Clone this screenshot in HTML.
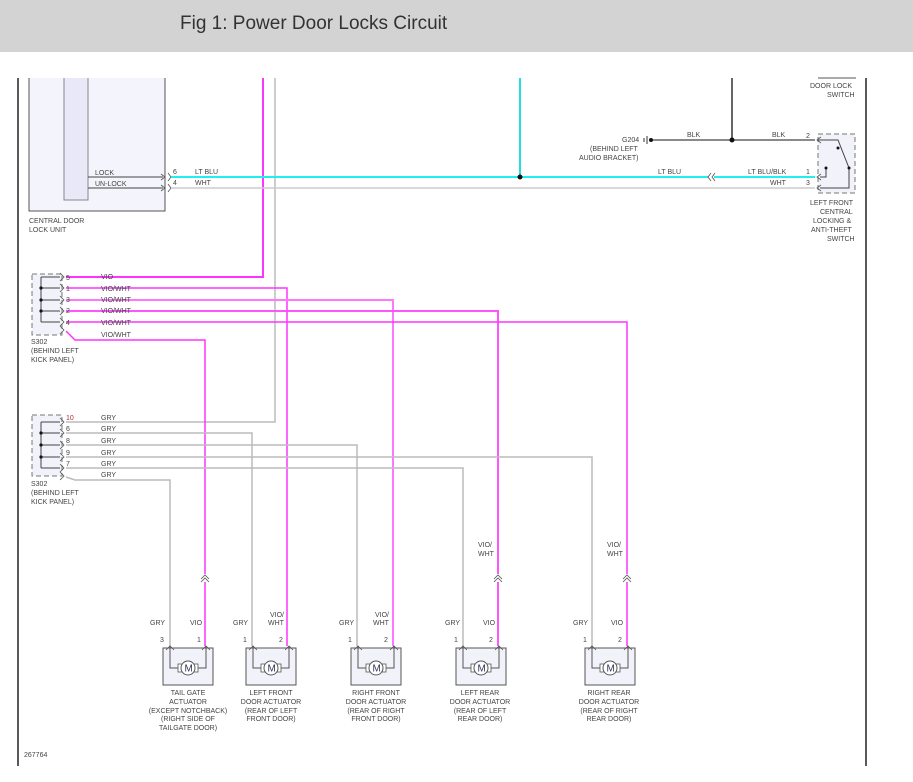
<!DOCTYPE html>
<html><head><meta charset="utf-8"><style>
body{margin:0;width:913px;height:782px;background:#fff;overflow:hidden;font-family:"Liberation Sans",sans-serif}
.hdr{position:absolute;left:0;top:0;width:913px;height:52px;background:#d3d3d3}
.hdr span{position:absolute;left:180px;top:13px;font-size:19px;color:#333}
svg{position:absolute;left:0;top:0}
text{font-family:"Liberation Sans",sans-serif;font-size:7px;fill:#444}
</style></head><body>
<div class="hdr"><span>Fig 1: Power Door Locks Circuit</span></div>
<svg width="913" height="782" viewBox="0 0 913 782">
<defs>
<g id="act">
<rect x="0" y="0" width="50" height="37" fill="#f2f2fa" stroke="#555" stroke-width="1"/>
<path d="M7,-2 V20 H16 M43,-2 V20 H34" fill="none" stroke="#555" stroke-width="1"/>
<path d="M3,2 L7,-2 L11,2 M39,2 L43,-2 L47,2" fill="none" stroke="#555" stroke-width="0.8"/>
<rect x="15" y="16" width="4" height="8" fill="#fff" stroke="#555" stroke-width="0.8"/>
<rect x="31" y="16" width="4" height="8" fill="#fff" stroke="#555" stroke-width="0.8"/>
<circle cx="25" cy="20" r="7" fill="#fff" stroke="#555" stroke-width="1"/>
<text x="21.5" y="23.5" style="font-size:10px;fill:#335">M</text>
</g>
<g id="conn"><path d="M-4,4 L0,0 L4,4 M-4,7 L0,3 L4,7" fill="none" stroke="#555" stroke-width="0.8"/></g>
</defs>
<!-- frame -->
<line x1="18" y1="78" x2="18" y2="766" stroke="#222" stroke-width="1.5"/>
<line x1="866" y1="78" x2="866" y2="766" stroke="#222" stroke-width="1.5"/>
<!-- central door lock unit -->
<path d="M29,78 V211 H165 V78" fill="#f4f4fc" stroke="#555"/>
<path d="M64,78 V200 H88 V78" fill="#e8e8f8" stroke="#888"/>
<path d="M88,177 H163 M88,188 H163" stroke="#444"/>
<path d="M161,174 L165,177 L161,180 M161,185 L165,188 L161,191 M168,173 L171,177 L168,181 M168,184 L171,188 L168,192" fill="none" stroke="#555" stroke-width="0.8"/>
<text x="95" y="175">LOCK</text><text x="95" y="186">UN-LOCK</text>
<text x="173" y="174">6</text><text x="173" y="185">4</text>
<text x="195" y="174">LT BLU</text><text x="195" y="185">WHT</text>
<text x="29" y="223">CENTRAL DOOR</text><text x="29" y="232">LOCK UNIT</text>
<!-- vertical top wires -->
<path d="M263,78 V277 H66" fill="none" stroke="#ff33ff" stroke-width="2"/>
<path d="M275,78 V422 H66" fill="none" stroke="#bbb" stroke-width="1.5"/>
<!-- cyan and white -->
<path d="M171,177 H708 M714,177 H815" stroke="#22eeee" stroke-width="2"/>
<path d="M171,188 H815" stroke="#ccc" stroke-width="1.5"/>
<path d="M520,78 V177" stroke="#22dddd" stroke-width="2"/>
<circle cx="520" cy="177" r="2.5" fill="#111"/>
<path d="M711,173 L708,177 L711,181 M715,173 L712,177 L715,181" fill="none" stroke="#555" stroke-width="0.8"/>
<text x="658" y="174">LT BLU</text><text x="748" y="174">LT BLU/BLK</text><text x="770" y="185">WHT</text>
<text x="806" y="174">1</text><text x="806" y="185">3</text><text x="806" y="138">2</text>
<!-- BLK -->
<path d="M732,78 V140" stroke="#333" stroke-width="1.5"/>
<path d="M652,140 H815" stroke="#444" stroke-width="1.2"/>
<circle cx="732" cy="140" r="2.5" fill="#111"/>
<circle cx="651" cy="140" r="2" fill="#111"/>
<path d="M647,136 V144 M644,138 V142" stroke="#333"/>
<text x="687" y="137">BLK</text><text x="772" y="137">BLK</text>
<text x="622" y="142">G204</text><text x="590" y="151">(BEHIND LEFT</text><text x="579" y="160">AUDIO BRACKET)</text>
<!-- switch -->
<path d="M818,78 H856" stroke="#555"/>
<text x="810" y="88">DOOR LOCK</text><text x="827" y="97">SWITCH</text>
<rect x="818" y="134" width="37" height="59" fill="#f2f2fa" stroke="#777" stroke-dasharray="5,3"/>
<path d="M818,140 H838 L849,168 V188 H820 M820,177 H826 V168" fill="none" stroke="#444"/>
<circle cx="838" cy="148" r="1.5" fill="#111"/><circle cx="849" cy="168" r="1.5" fill="#111"/><circle cx="826" cy="168" r="1.5" fill="#111"/>
<path d="M821,137 L817,140 L821,143 M821,174 L817,177 L821,180 M821,185 L817,188 L821,191" fill="none" stroke="#555" stroke-width="0.8"/>
<text x="810" y="205">LEFT FRONT</text><text x="820" y="214">CENTRAL</text><text x="813" y="223">LOCKING &amp;</text><text x="811" y="232">ANTI-THEFT</text><text x="827" y="241">SWITCH</text>
<!-- S302 top -->
<rect x="32" y="274" width="30" height="61" fill="#f2f2fa" stroke="#777" stroke-dasharray="5,3"/>
<path d="M41,277 V322 M41,277 H60 M41,288 H60 M41,300 H60 M41,311 H60 M41,322 H60" stroke="#444" fill="none"/>
<circle cx="41" cy="288" r="1.6" fill="#111"/><circle cx="41" cy="300" r="1.6" fill="#111"/><circle cx="41" cy="311" r="1.6" fill="#111"/>
<g fill="none" stroke="#555" stroke-width="0.8">
<path d="M60,273 L64,277 L60,281 M60,284 L64,288 L60,292 M60,296 L64,300 L60,304 M60,307 L64,311 L60,315 M60,318 L64,322 L60,326 M60,326 L64,330 L60,334"/>
</g>
<path d="M66,288 H287 V646" fill="none" stroke="#ff33ff" stroke-width="1.5"/>
<path d="M66,300 H393 V646" fill="none" stroke="#ff77ff" stroke-width="2"/>
<path d="M66,311 H498 V646" fill="none" stroke="#ff55ff" stroke-width="2"/>
<path d="M66,322 H627 V646" fill="none" stroke="#ff33ff" stroke-width="1.5"/>
<path d="M66,331 L75,340 H205 V646" fill="none" stroke="#ff33ff" stroke-width="1.5"/>
<text x="66" y="280">5</text><text x="66" y="291">1</text><text x="66" y="302">3</text><text x="66" y="313">2</text><text x="66" y="325">4</text>
<text x="101" y="279">VIO</text><text x="101" y="291">VIO/WHT</text><text x="101" y="302">VIO/WHT</text><text x="101" y="313">VIO/WHT</text><text x="101" y="325">VIO/WHT</text><text x="101" y="337">VIO/WHT</text>
<text x="31" y="344">S302</text><text x="31" y="353">(BEHIND LEFT</text><text x="31" y="362">KICK PANEL)</text>
<!-- S302 bottom -->
<rect x="32" y="415" width="30" height="61" fill="#f2f2fa" stroke="#777" stroke-dasharray="5,3"/>
<path d="M41,422 V468 M41,422 H60 M41,433 H60 M41,445 H60 M41,457 H60 M41,468 H60" stroke="#444" fill="none"/>
<circle cx="41" cy="433" r="1.6" fill="#111"/><circle cx="41" cy="445" r="1.6" fill="#111"/><circle cx="41" cy="457" r="1.6" fill="#111"/>
<g fill="none" stroke="#555" stroke-width="0.8">
<path d="M60,418 L64,422 L60,426 M60,429 L64,433 L60,437 M60,441 L64,445 L60,449 M60,453 L64,457 L60,461 M60,464 L64,468 L60,472 M60,472 L64,476 L60,480"/>
</g>
<g fill="none" stroke="#bbb" stroke-width="1.5">
<path d="M66,433 H252 V646"/>
<path d="M66,445 H357 V646"/>
<path d="M66,457 H592 V646"/>
<path d="M66,468 H463 V646"/>
<path d="M66,477 L75,480 H170 V646"/>
</g>
<text x="66" y="420" style="fill:#a33">10</text><text x="66" y="431">6</text><text x="66" y="443">8</text><text x="66" y="455">9</text><text x="66" y="466">7</text>
<text x="101" y="420">GRY</text><text x="101" y="431">GRY</text><text x="101" y="443">GRY</text><text x="101" y="455">GRY</text><text x="101" y="466">GRY</text><text x="101" y="477">GRY</text>
<text x="31" y="486">S302</text><text x="31" y="495">(BEHIND LEFT</text><text x="31" y="504">KICK PANEL)</text>
<!-- inline connectors -->
<g fill="#fff"><rect x="201" y="574" width="8" height="8"/><rect x="494" y="574" width="8" height="8"/><rect x="623" y="574" width="8" height="8"/></g>
<use href="#conn" x="205" y="575"/><use href="#conn" x="498" y="575"/><use href="#conn" x="627" y="575"/>
<text x="478" y="547">VIO/</text><text x="478" y="556">WHT</text>
<text x="607" y="547">VIO/</text><text x="607" y="556">WHT</text>
<!-- actuators -->
<use href="#act" x="163" y="648"/><use href="#act" x="246" y="648"/><use href="#act" x="351" y="648"/><use href="#act" x="456" y="648"/><use href="#act" x="585" y="648"/>
<text x="150" y="625">GRY</text><text x="190" y="625">VIO</text><text x="160" y="642">3</text><text x="197" y="642">1</text>
<text x="233" y="625">GRY</text><text x="270" y="617">VIO/</text><text x="268" y="625">WHT</text><text x="243" y="642">1</text><text x="279" y="642">2</text>
<text x="339" y="625">GRY</text><text x="375" y="617">VIO/</text><text x="373" y="625">WHT</text><text x="348" y="642">1</text><text x="384" y="642">2</text>
<text x="445" y="625">GRY</text><text x="483" y="625">VIO</text><text x="454" y="642">1</text><text x="489" y="642">2</text>
<text x="573" y="625">GRY</text><text x="611" y="625">VIO</text><text x="583" y="642">1</text><text x="618" y="642">2</text>
<g text-anchor="middle">
<text x="188" y="695">TAIL GATE</text><text x="188" y="704">ACTUATOR</text><text x="188" y="713">(EXCEPT NOTCHBACK)</text><text x="188" y="721">(RIGHT SIDE OF</text><text x="188" y="730">TAILGATE DOOR)</text>
<text x="271" y="695">LEFT FRONT</text><text x="271" y="704">DOOR ACTUATOR</text><text x="271" y="713">(REAR OF LEFT</text><text x="271" y="721">FRONT DOOR)</text>
<text x="376" y="695">RIGHT FRONT</text><text x="376" y="704">DOOR ACTUATOR</text><text x="376" y="713">(REAR OF RIGHT</text><text x="376" y="721">FRONT DOOR)</text>
<text x="480" y="695">LEFT REAR</text><text x="480" y="704">DOOR ACTUATOR</text><text x="480" y="713">(REAR OF LEFT</text><text x="480" y="721">REAR DOOR)</text>
<text x="609" y="695">RIGHT REAR</text><text x="609" y="704">DOOR ACTUATOR</text><text x="609" y="713">(REAR OF RIGHT</text><text x="609" y="721">REAR DOOR)</text>
</g>
<text x="24" y="757">267764</text>
</svg>
</body></html>
